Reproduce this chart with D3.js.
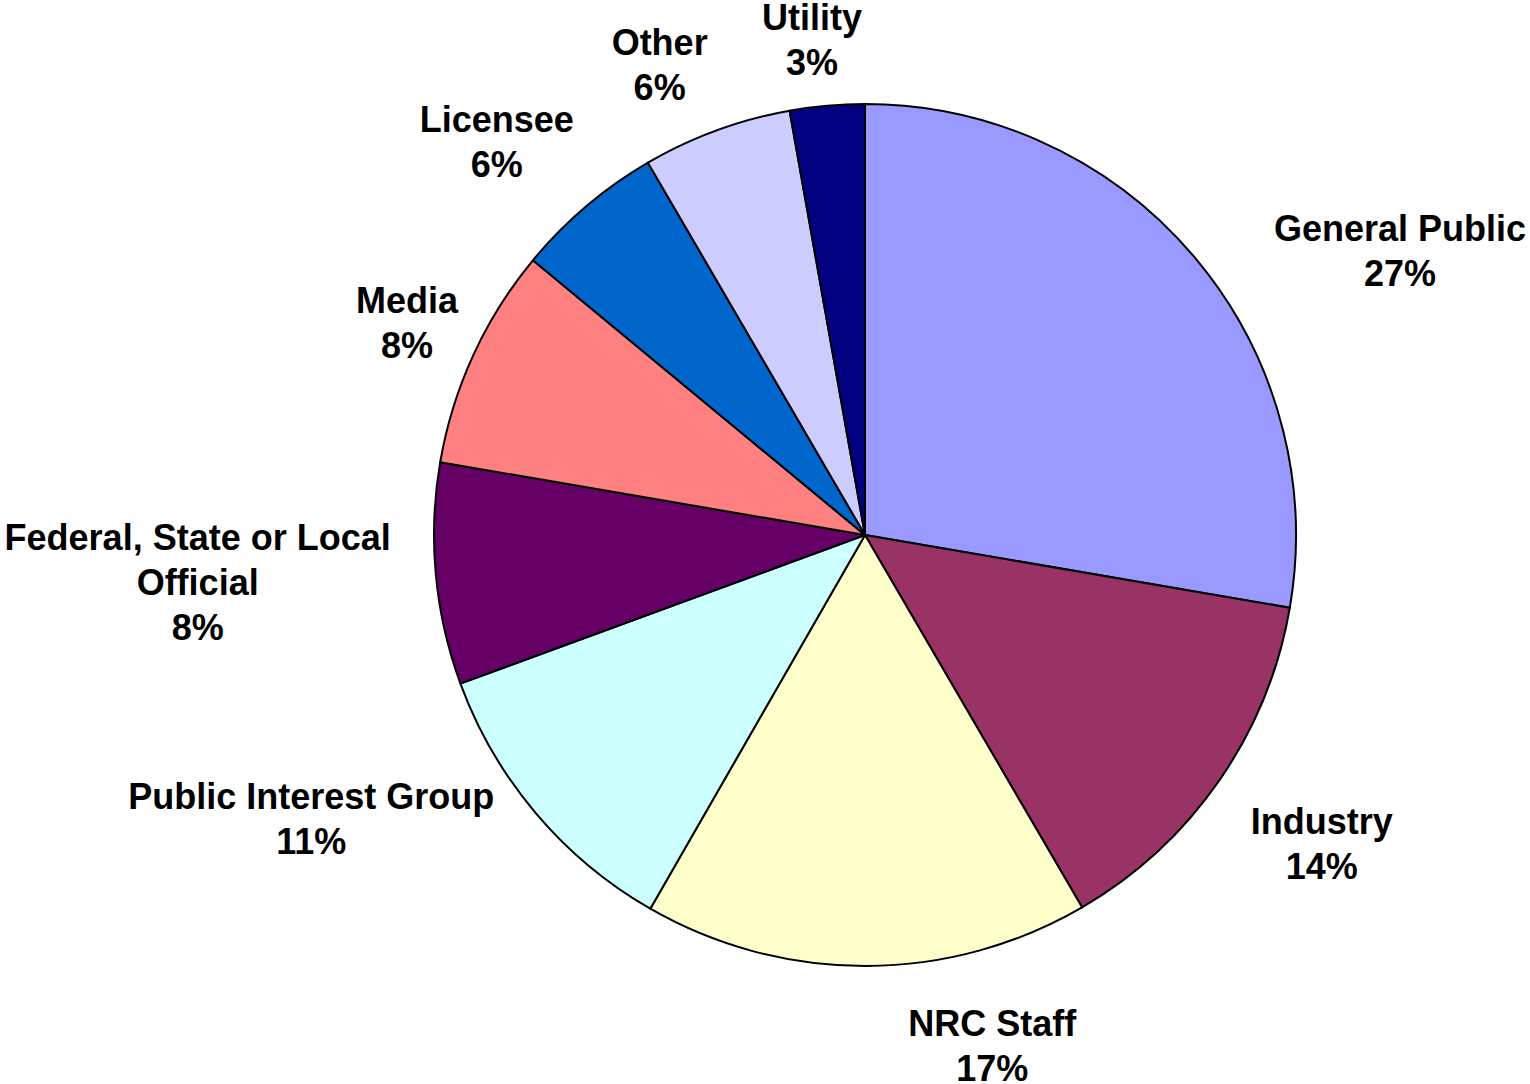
<!DOCTYPE html>
<html>
<head>
<meta charset="utf-8">
<script src="https://cdn.jsdelivr.net/npm/d3@7"></script>
<style>
    body { margin: 0; background: #fff; }
    svg text { font-family: "Liberation Sans", Arial, sans-serif; font-weight: bold; font-size: 36px; fill: #000; }
</style>
</head>
<body>
<div id="chart-area"></div>
<script>
// pie chart - share of requests by requester type

let categories = ["General Public", "Industry", "NRC Staff", "Public Interest Group",
    "Federal, State or Local Official", "Media", "Licensee", "Other", "Utility"];
let values = [27.7, 13.9, 16.7, 11.1, 8.3, 8.3, 5.6, 5.6, 2.8];
let pctLabels = ["27%", "14%", "17%", "11%", "8%", "8%", "6%", "6%", "3%"];
let colors = ["#9999FF", "#993366", "#FFFFCC", "#CCFFFF", "#660066",
    "#FF8080", "#0066CC", "#CCCCFF", "#000080"];

// label text lines (wrapping like the original)
let labelLines = [["General Public"], ["Industry"], ["NRC Staff"], ["Public Interest Group"],
    ["Federal, State or Local", "Official"], ["Media"], ["Licensee"], ["Other"], ["Utility"]];

// label placement: angle (deg, clockwise from top) and distance from centre
let labelPolar = [[62.0, 606], [124.0, 551], [166.0, 526], [242.9, 622], [266.0, 669],
    [294.9, 505], [316.9, 539], [336.4, 513], [353.9, 498]];

let width = 1530, height = 1084;
let cx = 865, cy = 535, radius = 431;
let lineH = 45;

let svg = d3.select("#chart-area").append("svg")
    .attr("width", width)
    .attr("height", height);

let g = svg.append("g")
    .attr("transform", "translate(" + cx + "," + cy + ")");

let data = categories.map((c, i) => ({name: c, value: values[i], i: i}));

let pie = d3.pie()
    .value(d => d.value)
    .sort(null);

let arc = d3.arc()
    .innerRadius(0)
    .outerRadius(radius);

g.selectAll(".slice")
    .data(pie(data))
    .enter().append("path")
    .attr("class", "slice")
    .attr("d", arc)
    .attr("fill", d => colors[d.data.i])
    .attr("stroke", "#000")
    .attr("stroke-width", 2)
    .attr("stroke-linejoin", "round");

// labels
data.forEach(function (d, i) {
    let a = labelPolar[i][0] * Math.PI / 180;
    let r = labelPolar[i][1];
    let x = r * Math.sin(a);
    let y = -r * Math.cos(a);
    let lines = labelLines[i].concat([pctLabels[i]]);
    let n = lines.length;

    let t = g.append("text")
        .attr("text-anchor", "middle");

    lines.forEach(function (ln, k) {
        t.append("tspan")
            .attr("x", x)
            .attr("y", y + (k - (n - 1) / 2) * lineH + 13)
            .text(ln);
    });
});
</script>
</body>
</html>
